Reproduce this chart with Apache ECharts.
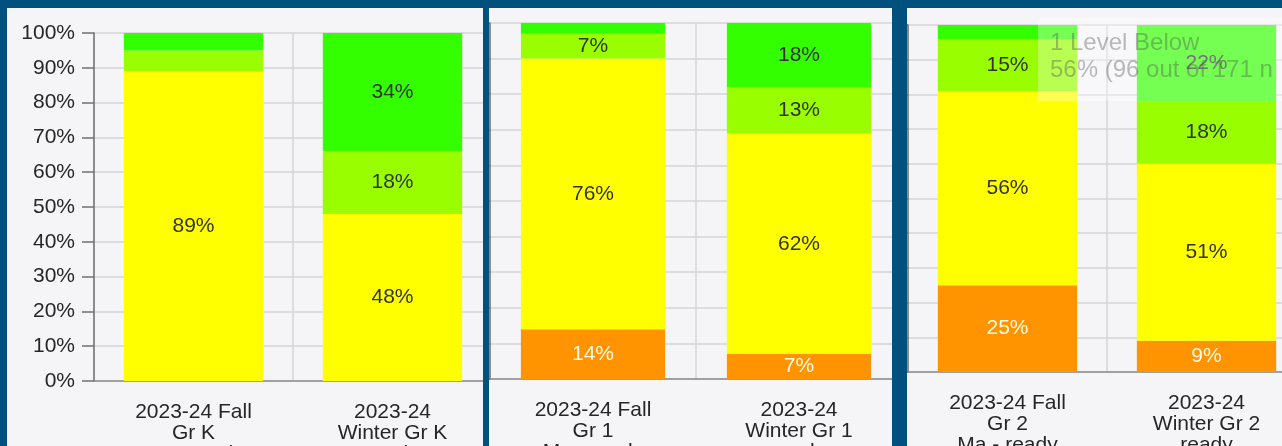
<!DOCTYPE html>
<html><head><meta charset="utf-8">
<script src="https://cdn.jsdelivr.net/npm/echarts@6/dist/echarts.min.js"></script>
<style>
html,body{margin:0;padding:0;width:1282px;height:446px;overflow:hidden;background:#01517f;}
.panel{position:absolute;top:8px;height:438px;overflow:hidden;background:#f5f4f6;}
.chart{position:absolute;top:0;height:438px;}
</style></head><body>
<div class="panel" style="left:7px;width:476px"><div class="chart" id="c1" style="left:0;width:600px"></div></div>
<div class="panel" style="left:489px;width:403px"><div class="chart" id="c2" style="left:-100px;width:700px"></div></div>
<div class="panel" style="left:907px;width:375px"><div class="chart" id="c3" style="left:-100px;width:700px"></div></div>
<script>
// ---- data ----
const levelNames = ['2 Levels Below', '1 Level Below', 'Early On', 'Mid or Above'];
const levelColors = ['#ff9400', '#ffff00', '#99ff00', '#33ff00'];
const yTickValues = [0, 10, 20, 30, 40, 50, 60, 70, 80, 90, 100];

const catsK = ['2023-24 Fall\nGr K\nMa - ready', '2023-24\nWinter Gr K\nready'];
const twoBelowK = [0, 0];
const oneBelowK = [89, 48];
const earlyOnK = [6, 18];
const midAboveK = [5, 34];

const cats1 = ['2023-24 Fall\nGr 1\nMa - ready', '2023-24\nWinter Gr 1\nready'];
const twoBelow1 = [14, 7];
const oneBelow1 = [76, 62];
const earlyOn1 = [7, 13];
const midAbove1 = [3, 18];

const cats2 = ['2023-24 Fall\nGr 2\nMa - ready', '2023-24\nWinter Gr 2\nready'];
const twoBelow2 = [25, 9];
const oneBelow2 = [56, 51];
const earlyOn2 = [15, 18];
const midAbove2 = [4, 22];

const tipTitle = '1 Level Below';
const tipText = '56% (96 out of 171 n';

// ---- build ----
const FONT = '"Liberation Sans", Arial, sans-serif';
function makeOption(cats, seriesData, grid) {
  grid.containLabel = false;
  grid.outerBoundsMode = 'none';
  return {
    animation: false,
    backgroundColor: 'transparent',
    textStyle: { fontFamily: FONT },
    grid: grid,
    xAxis: {
      type: 'category', data: cats,
      axisLine: { lineStyle: { color: '#8a8a8a', width: 1.5 } },
      axisTick: { alignWithLabel: true, length: 11, lineStyle: { color: '#666', width: 1.5 } },
      axisLabel: { interval: 0, fontSize: 21, lineHeight: 21, margin: 21, color: '#262626', fontFamily: FONT },
      splitLine: { show: true, lineStyle: { color: '#d6d6d6', width: 1.5 } }
    },
    yAxis: {
      type: 'value', min: 0, max: 100, interval: 10,
      axisLine: { show: true, lineStyle: { color: '#707070', width: 1.5 } },
      axisTick: { show: true, length: 12, lineStyle: { color: '#707070', width: 1.5 } },
      axisLabel: { formatter: '{value}%', fontSize: 21, margin: 19, color: '#262626', fontFamily: FONT },
      splitLine: { lineStyle: { color: '#d6d6d6', width: 1.5 } }
    },
    series: seriesData.map((d, i) => ({
      name: levelNames[i], type: 'bar', stack: 'all', data: d,
      barWidth: '70%',
      itemStyle: { color: levelColors[i] },
      emphasis: { disabled: true },
      label: {
        show: true, position: 'inside', fontSize: 21, fontFamily: FONT,
        color: i === 0 ? '#fffbe6' : '#333333',
        formatter: p => (p.value >= 7 ? p.value + '%' : '')
      }
    }))
  };
}

const c1 = echarts.init(document.getElementById('c1'), null, { renderer: 'canvas' });
c1.setOption(makeOption(catsK, [twoBelowK, oneBelowK, earlyOnK, midAboveK],
  { left: 87, top: 25, width: 398, height: 348 }));

const c2 = echarts.init(document.getElementById('c2'), null, { renderer: 'canvas' });
c2.setOption(makeOption(cats1, [twoBelow1, oneBelow1, earlyOn1, midAbove1],
  { left: 101, top: 15, width: 412, height: 356 }));

const c3 = echarts.init(document.getElementById('c3'), null, { renderer: 'canvas' });
const opt3 = makeOption(cats2, [twoBelow2, oneBelow2, earlyOn2, midAbove2],
  { left: 101, top: 17, width: 398, height: 347 });
opt3.graphic = [
  { type: 'rect', z: 100, shape: { x: 231, y: 10, width: 400, height: 83 },
    style: { fill: 'rgba(255,255,255,0.32)' } },
  { type: 'text', z: 101, left: 243, top: 22,
    style: { text: tipTitle + '\n' + tipText, font: '24px ' + FONT, lineHeight: 27,
      fill: 'rgba(80,80,80,0.38)' } }
];
c3.setOption(opt3);
</script>
</body></html>
